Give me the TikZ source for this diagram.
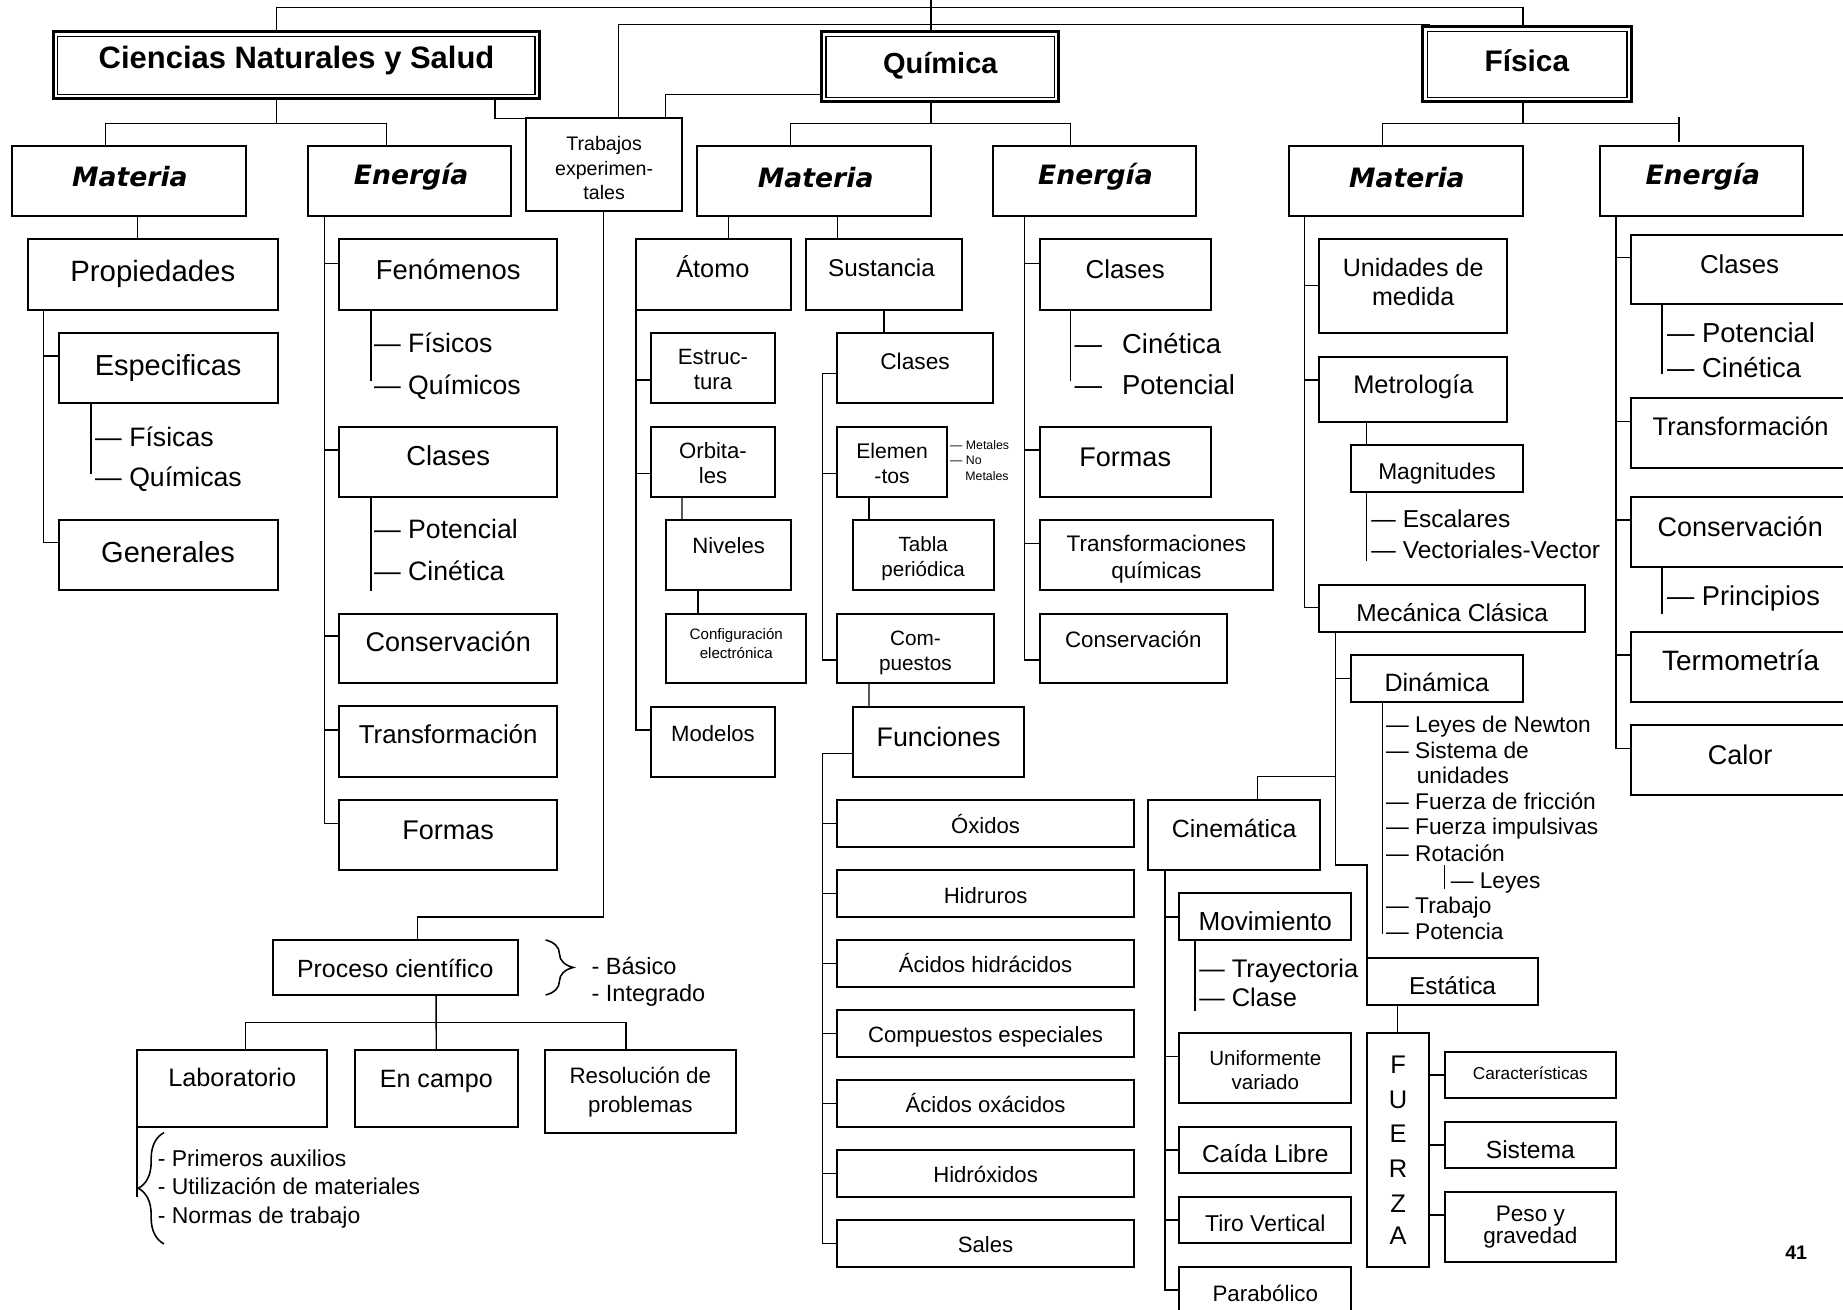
\documentclass[tikz,border=0pt]{standalone}
\usepackage{fontspec}
\setmainfont{Liberation Sans}
\newfontfamily\djv{DejaVu Sans}
\usetikzlibrary{calc,decorations.pathreplacing}
\newcommand\BX[6][box]{\node[#1,minimum width={(#5-#3)*0.6pt},minimum height={(#6-#4)*0.6pt}] (#2) at ({(#3+#5)/2},{(#4+#6)/2}) {};}
\newcommand\TX[6][]{\node[anchor=base,inner sep=0pt,font={#1\fontsize{#5}{#5}\selectfont}] (#2) at ({#3},{#4+0.6*#5}) {#6};}
\newcommand\TL[6][]{\node[anchor=base west,inner sep=0pt,font={#1\fontsize{#5}{#5}\selectfont}] (#2) at ({#3},{#4+0.6*#5}) {#6};}
\newcommand\BR[3]{\draw ($(#1.north west)+(-#2,#3)$) -- ($(#1.north west)+(0,#3)$);}
\begin{document}
\begin{tikzpicture}[x=0.6pt,y=-0.6pt,
  box/.style={draw,line width=1pt,inner sep=0pt,outer sep=0pt,rectangle},
  tbox/.style={draw,line width=1.5pt,inner sep=0pt,outer sep=0pt,rectangle},
  conn/.style={line width=0.7pt,line cap=rect},
  bracestyle/.style={line width=0.8pt,decorate}]
\path[use as bounding box,fill=white] (0,0) rectangle (1568,1114);
\clip (0,0) rectangle (1568,1114);

% ---------- boxes ----------
\BX[tbox]{cns}{45.4}{27}{459}{84}
\BX[tbox]{qui}{699}{27}{900.8}{86.5}
\BX[tbox]{fis}{1210.4}{22.7}{1388}{86.5}
\foreach \n in {cns,qui,fis}
  \draw[line width=0.6pt] ($(\n.north west)+(3.8,3.8)$) rectangle ($(\n.south east)+(-3.8,-3.8)$);
\BX{cmat}{10}{124}{209.5}{184}
\BX{cene}{262}{124}{435}{184}
\BX{trab}{447.4}{100.7}{580.6}{179.5}
\BX{qmat}{593}{124}{792}{184}
\BX{qene}{844.6}{124}{1017.5}{184}
\BX{fmat}{1096.5}{124}{1295.6}{184}
\BX{fene}{1361.5}{124}{1534}{184}
% CN materia
\BX{prop}{23.5}{203.6}{236.5}{263.8}
\BX{espe}{49.8}{283}{236.5}{343.2}
\BX{gene}{49.8}{442.5}{236.5}{502}
% CN energia
\BX{feno}{288.6}{203.6}{474}{263.8}
\BX{ccla}{288.6}{363}{474}{422.6}
\BX{ccon}{288.6}{522}{474}{581.4}
\BX{ctra}{288.6}{601}{474}{660.8}
\BX{cfor}{288.6}{680.6}{474}{740.2}
% proceso
\BX{proc}{232}{799.7}{440.6}{846.5}
\BX{lab}{116.7}{893.3}{278.5}{958.5}
\BX{camp}{301.7}{893.3}{440.6}{958.5}
\BX{reso}{463.5}{893.3}{626}{964.2}
% Q materia
\BX{atom}{541}{203.6}{673}{263.8}
\BX{sust}{686}{203.6}{818.4}{263.8}
\BX{estr}{553.6}{283.6}{659.6}{343.2}
\BX{orbi}{553.6}{363}{659.6}{422.6}
\BX{nive}{566.8}{442.5}{673}{502}
\BX{conf}{566.8}{522}{686}{581.4}
\BX{mode}{553.6}{601.2}{659.6}{660.8}
\BX{qcla}{712.4}{283.6}{844.6}{343.2}
\BX{elem}{712.4}{363}{805.6}{422.6}
\BX{tabl}{725.5}{442.5}{845.3}{502}
\BX{comp}{712.4}{522}{845.3}{581.4}
\BX{func}{725.5}{601.2}{871.5}{660.8}
\BX{oxid}{712.4}{680.6}{964.7}{720.3}
\BX{hidru}{712.4}{740.2}{964.7}{779.9}
\BX{ahid}{712.4}{799.7}{964.7}{839.4}
\BX{cesp}{712.4}{859.2}{964.7}{899}
\BX{aoxa}{712.4}{918.8}{964.7}{958.5}
\BX{hidro}{712.4}{978.4}{964.7}{1018.1}
\BX{sale}{712.4}{1038}{964.7}{1077.6}
% Q energia
\BX{qecl}{884.6}{203.6}{1030}{263.8}
\BX{qfor}{884.6}{363}{1030}{422.6}
\BX{qtra}{884.6}{442.5}{1083}{502}
\BX{qcon}{884.6}{522}{1043.7}{581.4}
% F materia
\BX{unid}{1122.5}{203.6}{1282}{283.6}
\BX{metr}{1122.5}{303.5}{1282}{358.8}
\BX{magn}{1149.6}{378.7}{1295.6}{418.4}
\BX{meca}{1122.5}{497.8}{1348.4}{537.5}
\BX{dina}{1149.6}{557.3}{1295.6}{597}
\BX{cine}{977}{680.6}{1123.2}{740.2}
\BX{movi}{1003.4}{760}{1149.5}{799.8}
\BX{unif}{1003.4}{879}{1149.6}{938.6}
\BX{caid}{1003.4}{958.5}{1149.6}{998.2}
\BX{tiro}{1003.4}{1018}{1149.6}{1057.8}
\BX{para}{1003.4}{1077.6}{1149.6}{1117.3}
\BX{esta}{1163}{815.3}{1308.5}{855}
\BX{fuer}{1163}{879}{1216}{1077.6}
\BX{cara}{1229}{894.7}{1375}{934.4}
\BX{sist}{1229}{954.2}{1375}{994}
\BX{peso}{1229}{1013.8}{1375}{1073.4}
% F energia
\BX{fecl}{1388}{200}{1580}{259}
\BX{fetr}{1388}{339}{1580}{398.5}
\BX{fecn}{1388}{422.6}{1580}{482.2}
\BX{fete}{1388}{537.5}{1580}{597}
\BX{feca}{1388}{616.8}{1580}{676.4}

% ---------- connectors ----------
\begin{scope}[conn]
\coordinate (top) at (792,0);
\draw (top) -- (top |- qui.north);
\draw ($(cns.north west)+(190.1,0)$) -- ++(0,-20.8) -| ($(fis.north west)+(85.2,0)$);
\draw ($(trab.north west)+(79,0)$) |- ($(fis.north west)+(5.6,-2)$);
\draw ($(cns.south west)+(375.6,0)$) |- (trab.north west);
\draw ($(qui.south west)+(0,-6.2)$) -| ($(trab.north west)+(118.6,0)$);
% level trees
\draw ($(cns.south west)+(190.1,0)$) -- ++(0,21);
\draw ($(cmat.north west)+(80,0)$) |- ($(cene.north west)+(67,-19)$) -- ($(cene.north west)+(67,0)$);
\draw ($(qui.south west)+(93,0)$) -- ++(0,18.5);
\draw ($(qmat.north west)+(79.7,0)$) |- ($(qene.north west)+(66.4,-19)$) -- ($(qene.north west)+(66.4,0)$);
\draw ($(fis.south west)+(85.2,0)$) -- ++(0,18.5);
\coordinate (ftick) at (1428.5,100);
\draw ($(fmat.north west)+(79.5,0)$) |- ($(ftick)+(0,5)$);
\draw (ftick) -- ++(0,20.5);
% CN materia
\draw ($(cmat.south west)+(107,0)$) -- ($(prop.north west)+(93.5,0)$);
\draw ($(prop.south west)+(13.5,0)$) |- ($(gene.north west)+(0,19.3)$);
\BR{espe}{12.8}{20}
\draw ($(espe.south west)+(27.6,0)$) -- ++(0,59.6);
% CN energia
\draw ($(cene.south west)+(14,0)$) |- ($(cfor.north west)+(0,19.9)$);
\BR{feno}{12.6}{20.4}
\BR{ccla}{12.6}{20}
\BR{ccon}{12.6}{19}
\BR{ctra}{12.6}{20}
\draw ($(feno.south west)+(26.9,0)$) -- ++(0,59.6);
\draw ($(ccla.south west)+(26.9,0)$) -- ++(0,79.4);
% trabajos / proceso
\draw ($(trab.south west)+(66.2,0)$) |- ($(proc.north west)+(123,-19.7)$) -- ($(proc.north west)+(123,0)$);
\draw ($(proc.south west)+(139,0)$) -- (camp.north);
\draw ($(lab.north west)+(92.3,0)$) |- ($(reso.north west)+(69,-23.3)$) -- ($(reso.north west)+(69,0)$);
\draw (lab.south west) -- ++(0,59.5);
% Q materia
\draw ($(qmat.south west)+(27,0)$) -- ($(atom.north west)+(79,0)$);
\draw ($(qmat.south west)+(119.7,0)$) -- ($(sust.north west)+(26.7,0)$);
\draw (atom.south west) |- ($(mode.north west)+(0,19.9)$);
\BR{estr}{12.6}{39.8}
\BR{orbi}{12.6}{39.8}
\draw ($(orbi.south west)+(26.6,0)$) -- ($(nive.north west)+(13.4,0)$);
\draw ($(nive.south west)+(26.9,0)$) -- ($(conf.north west)+(26.9,0)$);
\draw ($(sust.south west)+(66,0)$) -- ($(qcla.north west)+(39.6,0)$);
\draw ($(qcla.north west)+(0,34.1)$) -| ($(comp.north west)+(-12.8,39.5)$) -- ($(comp.north west)+(0,39.5)$);
\BR{elem}{12.8}{39.8}
\draw ($(elem.south west)+(26.9,0)$) -- ($(tabl.north west)+(13.8,0)$);
\draw ($(comp.south west)+(26.9,0)$) -- ($(func.north west)+(13.8,0)$);
\draw ($(func.north west)+(0,39.8)$) -| ($(sale.north west)+(-12.8,19.8)$) -- ($(sale.north west)+(0,19.8)$);
\foreach \n in {oxid,hidru,ahid,cesp,aoxa,hidro} {\BR{\n}{12.8}{19.9}}
% Q energia
\draw ($(qene.south west)+(26.9,0)$) |- ($(qcon.north west)+(0,39.5)$);
\BR{qecl}{13.1}{20.4}
\BR{qfor}{13.1}{20}
\BR{qtra}{13.1}{19.8}
\draw ($(qecl.south west)+(26.4,0)$) -- ++(0,59.6);
% F materia
\draw ($(fmat.south west)+(13.5,0)$) |- ($(meca.north west)+(0,19)$);
\BR{unid}{12.5}{39.4}
\BR{metr}{12.5}{19.9}
\draw ($(metr.south west)+(39.9,0)$) -- ($(magn.north west)+(12.8,0)$);
\draw ($(magn.south west)+(12.8,0)$) -- ++(0,58.6);
\draw ($(meca.south west)+(13.5,0)$) |- ($(esta.north west)+(0,-79.3)$) -- (esta.north west);
\BR{dina}{13.6}{19.8}
\draw ($(meca.south west)+(13.5,123.3)$) -| ($(cine.north west)+(93,0)$);
\draw ($(dina.south west)+(26.4,0)$) -- ++(0,197);
\draw ($(dina.south west)+(79.4,139.8)$) -- ++(0,19);
\draw ($(cine.south west)+(14,0)$) |- ($(para.north west)+(0,19.9)$);
\BR{movi}{12.4}{20}
\BR{unif}{12.4}{20}
\BR{caid}{12.4}{19.9}
\BR{tiro}{12.4}{20}
\draw ($(movi.south west)+(13.4,0)$) -- ++(0,59.4);
\draw ($(esta.south west)+(26,0)$) -- ($(fuer.north west)+(26,0)$);
\BR{cara}{13}{19.8}
\BR{sist}{13}{19.9}
\BR{peso}{13}{19.9}
% F energia
\draw ($(fene.south west)+(13.5,0)$) |- ($(feca.north west)+(0,19.9)$);
\BR{fecl}{13}{19}
\BR{fetr}{13}{19.8}
\BR{fecn}{13}{19.9}
\BR{fete}{13}{19.8}
\draw ($(fecl.south west)+(26,0)$) -- ++(0,58.7);
\draw ($(fecn.south west)+(26,0)$) -- ++(0,39.7);
\end{scope}

% braces
\draw[bracestyle,decoration={brace,amplitude=14.1pt}] ($(proc.north east)+(23.6,0)$) -- ($(proc.south east)+(23.6,0)$);
\draw[bracestyle,decoration={brace,amplitude=13.2pt}] ($(lab.south west)+(22.9,99.8)$) -- ($(lab.south west)+(22.9,5.1)$);

% ---------- texts ----------
\TX[\bfseries]{t-cns}{252.3}{48.9}{15.8}{Ciencias Naturales y Salud}
\TX[\bfseries]{t-qui}{800}{53.6}{14.8}{Química}
\TX[\bfseries]{t-fis}{1299}{51.8}{15.2}{Física}
\TX[\djv\bfseries\itshape]{t-cmat}{110.5}{150.9}{13.6}{Materia}
\TX[\djv\bfseries\itshape]{t-cene}{349.8}{149}{13.6}{Energía}
\TX[\djv\bfseries\itshape]{t-qmat}{694}{151}{13.6}{Materia}
\TX[\djv\bfseries\itshape]{t-qene}{932}{149}{13.6}{Energía}
\TX[\djv\bfseries\itshape]{t-fmat}{1197}{151}{13.6}{Materia}
\TX[\djv\bfseries\itshape]{t-fene}{1448.7}{149}{13.6}{Energía}
\TX{t-trab1}{514}{122}{10}{Trabajos}
\TX{t-trab2}{514}{143}{10}{experimen-}
\TX{t-trab3}{514}{164}{10}{tales}
% CN
\TX{t-prop}{130}{230.4}{15}{Propiedades}
\TX{t-espe}{143}{310.6}{14.8}{Especificas}
\TX{t-gene}{143}{469.4}{14.8}{Generales}
\TL{t-fisi}{80.7}{371.3}{13.6}{— Físicas}
\TL{t-quim}{80.7}{405.6}{13.6}{— Químicas}
\TX{t-feno}{381.3}{229.4}{14}{Fenómenos}
\TL{t-fsco}{318}{291.4}{13.6}{— Físicos}
\TL{t-qmco}{318}{327.2}{13.6}{— Químicos}
\TX{t-ccla}{381.3}{388}{14}{Clases}
\TL{t-cpot}{318}{450.2}{13.6}{— Potencial}
\TL{t-ccin}{318}{486}{13.6}{— Cinética}
\TX{t-ccon}{381.3}{546}{13.8}{Conservación}
\TX{t-ctra}{381.3}{624.6}{13.2}{Transformación}
\TX{t-cfor}{381.3}{705.7}{13.8}{Formas}
% proceso
\TX{t-proc}{336.3}{823.8}{12.7}{Proceso científico}
\TL{t-basi}{503}{821.5}{12}{- Básico}
\TL{t-inte}{503}{845.1}{12}{- Integrado}
\TX{t-lab}{197.6}{916.7}{12.9}{Laboratorio}
\TX{t-camp}{371.2}{917.4}{12.8}{En campo}
\TX{t-reso1}{544.8}{915.2}{11.4}{Resolución de}
\TX{t-reso2}{544.8}{940}{11.4}{problemas}
\TL{t-prim}{133.9}{985.4}{11.7}{- Primeros auxilios}
\TL{t-util}{133.9}{1009.6}{11.7}{- Utilización de materiales}
\TL{t-norm}{133.9}{1033.7}{11.7}{- Normas de trabajo}
% Q materia
\TX{t-atom}{606.5}{228}{12.9}{Átomo}
\TX{t-sust}{750}{227.5}{12.4}{Sustancia}
\TX{t-estr1}{606.6}{303.5}{11.3}{Estruc-}
\TX{t-estr2}{606.6}{324.8}{11.3}{tura}
\TX{t-orbi1}{606.6}{382.9}{11.3}{Orbita-}
\TX{t-orbi2}{606.6}{404.2}{11.3}{les}
\TX{t-nive}{619.9}{464.5}{11.3}{Niveles}
\TX{t-conf1}{626.4}{539.6}{7.7}{Configuración}
\TX{t-conf2}{626.4}{555.8}{7.7}{electrónica}
\TX{t-mode}{606.6}{623.9}{11.3}{Modelos}
\TX{t-qcla}{778.5}{307.7}{11.6}{Clases}
\TX{t-elem1}{759}{383.6}{10.8}{Elemen}
\TX{t-elem2}{759}{404.9}{10.8}{-tos}
\TL{t-met1}{808}{378.6}{6.3}{— Metales}
\TL{t-met2}{808}{391.4}{6.3}{— No}
\TL{t-met3}{821}{404.7}{6.3}{Metales}
\TX{t-tabl1}{785.4}{463}{10.5}{Tabla}
\TX{t-tabl2}{785.4}{484.3}{10.5}{periódica}
\TX{t-comp1}{778.8}{542.4}{10.6}{Com-}
\TX{t-comp2}{778.8}{563.7}{10.6}{puestos}
\TX{t-func}{798.5}{626.7}{13.7}{Funciones}
\TX{t-oxid}{838.5}{702}{11.3}{Óxidos}
\TX{t-hidru}{838.5}{761.5}{11.3}{Hidruros}
\TX{t-ahid}{838.5}{821}{11.3}{Ácidos hidrácidos}
\TX{t-cesp}{838.5}{880.5}{11.3}{Compuestos especiales}
\TX{t-aoxa}{838.5}{940}{11.3}{Ácidos oxácidos}
\TX{t-hidro}{838.5}{999.6}{11.3}{Hidróxidos}
\TX{t-sale}{838.5}{1059.2}{11.3}{Sales}
% Q energia
\TX{t-qecl}{957.3}{229.4}{13.2}{Clases}
\TL{t-qcin}{914}{292.2}{14}{—\hspace{0.73em}Cinética}
\TL{t-qpot}{914}{326.9}{14}{—\hspace{0.73em}Potencial}
\TX{t-qfor}{957.3}{388.2}{13.8}{Formas}
\TX{t-qtra1}{983.8}{462.3}{11.5}{Transformaciones}
\TX{t-qtra2}{983.8}{485}{11.5}{químicas}
\TX{t-qcon}{964.2}{543.9}{11.4}{Conservación}
% F materia
\TX{t-unid1}{1202.3}{227.6}{12.8}{Unidades de}
\TX{t-unid2}{1202.3}{252.6}{12.8}{medida}
\TX{t-metr}{1202.5}{326.9}{13}{Metrología}
\TX{t-magn}{1222.6}{401.3}{11.6}{Magnitudes}
\TL{t-esca}{1166.5}{441}{12.5}{— Escalares}
\TL{t-vect}{1166.5}{468}{12.5}{— Vectoriales-Vector}
\TX{t-meca}{1235.5}{521.2}{12.5}{Mecánica Clásica}
\TX{t-dina}{1222.4}{580.7}{12.8}{Dinámica}
\TL{t-d1}{1179}{616.3}{11.6}{— Leyes de Newton}
\TL{t-d2}{1179}{638.1}{11.6}{— Sistema de}
\TL{t-d3}{1205}{660}{11.6}{unidades}
\TL{t-d4}{1179}{682.1}{11.6}{— Fuerza de fricción}
\TL{t-d5}{1179}{703.3}{11.6}{— Fuerza impulsivas}
\TL{t-d6}{1179}{726}{11.6}{— Rotación}
\TL{t-d7}{1234}{748.7}{11.6}{— Leyes}
\TL{t-d8}{1179}{770.5}{11.6}{— Trabajo}
\TL{t-d9}{1179}{792.1}{11.6}{— Potencia}
\TX{t-cine}{1050}{704.7}{12.7}{Cinemática}
\TX{t-movi}{1076.5}{783.4}{13.3}{Movimiento}
\TL{t-tray}{1020}{823.8}{13}{— Trayectoria}
\TL{t-clas}{1020}{848.6}{13}{— Clase}
\TX{t-unif1}{1076.5}{900}{10.5}{Uniformente}
\TX{t-unif2}{1076.5}{921}{10.5}{variado}
\TX{t-caid}{1076.5}{981.9}{12.5}{Caída Libre}
\TX{t-tiro}{1076.5}{1040.7}{11.7}{Tiro Vertical}
\TX{t-para}{1076.5}{1100.3}{11.4}{Parabólico}
\TX{t-esta}{1235.8}{838.7}{12.5}{Estática}
\TX{t-f1}{1189.5}{905.3}{13}{F}
\TX{t-f2}{1189.5}{935.1}{13}{U}
\TX{t-f3}{1189.5}{964.2}{13}{E}
\TX{t-f4}{1189.5}{994}{13}{R}
\TX{t-f5}{1189.5}{1023.7}{13}{Z}
\TX{t-f6}{1189.5}{1051.4}{13}{A}
\TX{t-cara}{1302}{913.4}{8.8}{Características}
\TX{t-sist}{1302}{977.7}{12.6}{Sistema}
\TX{t-peso1}{1302}{1032.2}{11.5}{Peso y}
\TX{t-peso2}{1302}{1051.4}{11.5}{gravedad}
\TX[\bfseries]{t-page}{1528.2}{1065.3}{10}{41}
% F energia
\TX{t-fecl}{1480}{224.7}{13.2}{Clases}
\TL{t-fpot}{1418}{282.9}{14}{— Potencial}
\TL{t-fcin}{1418}{312.7}{14}{— Cinética}
\TX{t-fetr}{1480.9}{362.3}{13}{Transformación}
\TX{t-fecn}{1480.5}{448.1}{13.8}{Conservación}
\TL{t-fpri}{1418}{507}{13.9}{— Principios}
\TX{t-fete}{1480.9}{562.2}{14.3}{Termometría}
\TX{t-feca}{1480.5}{641.9}{13.8}{Calor}
\end{tikzpicture}
\end{document}
